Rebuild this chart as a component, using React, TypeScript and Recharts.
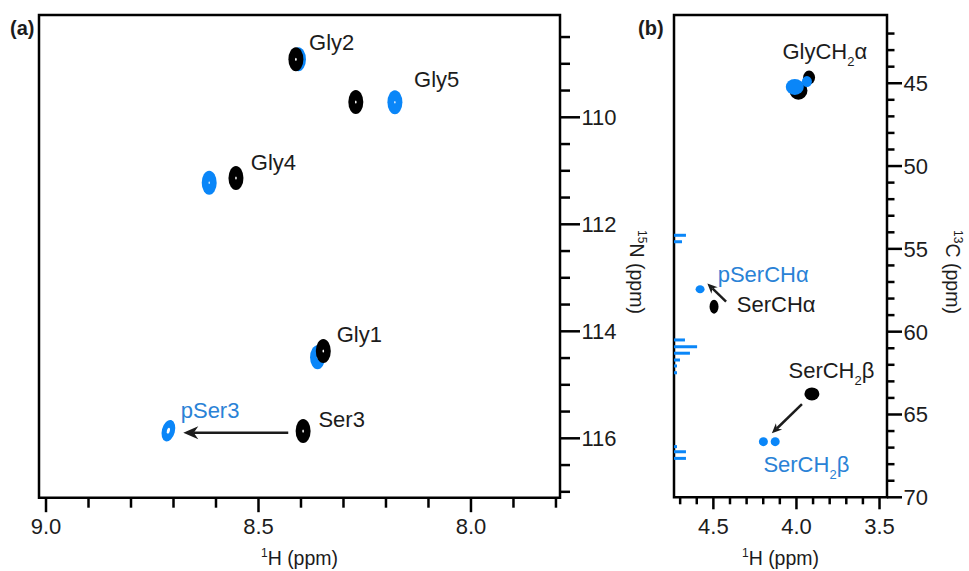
import React from 'react';
import { ScatterChart, Scatter, XAxis, YAxis, ReferenceLine, ReferenceArea } from 'recharts';

const FONT = '"Liberation Sans", Arial, Helvetica, sans-serif';
const INK = '#1c1c1c';
const BLUE = '#0a86f8';
const BLUE_TEXT = '#2a82d6';

// ---------- panel (a): 1H-15N ----------
const aXDomain = [7.7905, 9.0165];
const aYDomain = [108.088, 117.11];
const aXTicks = [9.0, 8.9, 8.8, 8.7, 8.6, 8.5, 8.4, 8.3, 8.2, 8.1, 8.0, 7.9, 7.8];
const aXMajor = [9.0, 8.5, 8.0];
const aYTicks = [108.5, 109, 109.5, 110, 110.5, 111, 111.5, 112, 112.5, 113, 113.5, 114, 114.5, 115, 115.5, 116, 116.5, 117];
const aYMajor = [110, 112, 114, 116];

// non-phosphorylated (black) and phosphorylated (blue) peaks: [1H, 15N]
const aBlackPeaks = [[8.412, 108.916], [8.271, 109.714], [8.553, 111.135], [8.3475, 114.368], [8.395, 115.864]];
const aBluePeaks = [[8.406, 108.916], [8.179, 109.72], [8.616, 111.222], [8.361, 114.486]];
const aPSerPeak = [[8.712, 115.858]];

const aLabels = ['Gly2', 'Gly5', 'Gly4', 'Gly1', 'Ser3'];
const aLabelPos = [[8.381, 108.742], [8.134, 109.428], [8.518, 110.985], [8.316, 114.194], [8.359, 115.783]];
const aBlueLabels = ['pSer3'];
const aBlueLabelPos = [[8.683, 115.626]];
const aArrows = [[[8.43, 115.895], [8.677, 115.895]]];

// ---------- panel (b): 1H-13C ----------
const bXDomain = [3.455, 4.737];
const bYDomain = [40.88, 70];
const bXTicks = [4.7, 4.6, 4.5, 4.4, 4.3, 4.2, 4.1, 4.0, 3.9, 3.8, 3.7, 3.6, 3.5];
const bXMajor = [4.5, 4.0, 3.5];
const bYTicks = [42, 43, 44, 45, 46, 47, 48, 49, 50, 51, 52, 53, 54, 55, 56, 57, 58, 59, 60, 61, 62, 63, 64, 65, 66, 67, 68, 69, 70];
const bYMajor = [45, 50, 55, 60, 65, 70];

const glyBlackMain = [[3.988, 45.45]];
const glyBlackSmall = [[3.924, 44.66]];
const glyBlueMain = [[4.01, 45.22]];
const glyBlueSmall = [[3.937, 44.9]];
const serAlpha = [[4.496, 58.49]];
const pSerAlpha = [[4.58, 57.44]];
const serBeta = [[3.907, 63.76]];
const pSerBeta = [[4.199, 66.64], [4.128, 66.64]];

const bLabels = ['GlyCH_2α', 'SerCHα', 'SerCH_2β'];
const bLabelPos = [[4.084, 43.55], [4.359, 58.79], [4.048, 62.81]];
const bBlueLabels = ['pSerCHα', 'SerCH_2β'];
const bBlueLabelPos = [[4.474, 56.98], [4.199, 68.45]];
const bArrows = [[[4.4235, 58.19], [4.536, 57.09]], [[3.967, 64.37], [4.148, 66.14]]];

// 13C projection along the left edge
const projShift = [54.18, 54.57, 60.5, 60.91, 61.3, 61.71, 62.07, 62.48, 66.94, 67.25, 67.65];
const projIntensity = [0.072, 0.048, 0.066, 0.139, 0.096, 0.036, 0.018, 0.018, 0.018, 0.072, 0.072];

const pts = (arr: number[][]) => arr.map(([x, y]) => ({ x, y }));
const lbls = (names: string[], pos: number[][]) => names.map((name, i) => ({ x: pos[i][0], y: pos[i][1], name }));
const isMajor = (v: number, majors: number[]) => majors.some((m) => Math.abs(m - v) < 1e-6);

const blob = (rx: number, ry: number, fill: string, hole = 1.6, tilt = 0) => (p: any) => (
  <g transform={`rotate(${tilt} ${p.cx} ${p.cy})`}>
    <ellipse cx={p.cx} cy={p.cy} rx={rx} ry={ry} fill={fill} />
    {hole > 0 && <ellipse cx={p.cx} cy={p.cy} rx={hole * 0.5} ry={hole} fill="#fff" />}
  </g>
);

const labelShape = (fill: string) => (p: any) => {
  const parts = String(p.payload.name).split('_');
  return (
    <text x={p.cx} y={p.cy} fill={fill} fontSize={22} fontFamily={FONT}>
      <tspan>{parts[0]}</tspan>
      {parts.slice(1).map((s, i) => (
        <React.Fragment key={i}>
          <tspan fontSize={13} dy={7}>{s[0]}</tspan>
          <tspan dy={-7}>{s.slice(1)}</tspan>
        </React.Fragment>
      ))}
    </text>
  );
};

const arrowShape = (len: number, half: number) => (p: any) => {
  const { x1, y1, x2, y2 } = p;
  const a = Math.atan2(y2 - y1, x2 - x1);
  const c = Math.cos(a), s = Math.sin(a);
  const bx = x2 - len * c, by = y2 - len * s;
  const nx = x2 - len * 0.7 * c, ny = y2 - len * 0.7 * s;
  const head = `${x2},${y2} ${bx - half * s},${by + half * c} ${nx},${ny} ${bx + half * s},${by - half * c}`;
  return (
    <g>
      <line x1={x1} y1={y1} x2={nx} y2={ny} stroke={INK} strokeWidth={2.5} />
      <polygon points={head} fill={INK} />
    </g>
  );
};

const bottomTick = (majors: number[], majorLen: number, minorLen: number) => (p: any) => {
  const v = p.payload.value;
  const major = isMajor(v, majors);
  return (
    <g>
      <line x1={p.x} x2={p.x} y1={p.y} y2={p.y + (major ? majorLen : minorLen)} stroke="#000" strokeWidth={2.5} />
      {major && (
        <text x={p.x} y={p.y + 36.5} textAnchor="middle" fontSize={22} fill={INK} fontFamily={FONT}>
          {v.toFixed(1)}
        </text>
      )}
    </g>
  );
};

const rightTick = (majors: number[], majorLen: number, minorLen: number) => (p: any) => {
  const v = p.payload.value;
  const major = isMajor(v, majors);
  return (
    <g>
      <line x1={p.x} x2={p.x + (major ? majorLen : minorLen)} y1={p.y} y2={p.y} stroke="#000" strokeWidth={2.5} />
      {major && (
        <text x={p.x + majorLen + 1.5} y={p.y + 8} textAnchor="start" fontSize={22} fill={INK} fontFamily={FONT}>
          {v}
        </text>
      )}
    </g>
  );
};

const xTitle = (p: any) => {
  const vb = p.viewBox;
  return (
    <text x={vb.x + vb.width / 2} y={vb.y + 67.5} textAnchor="middle" fontSize={19.5} fill={INK} fontFamily={FONT}>
      <tspan fontSize={12} dy={-8}>1</tspan>
      <tspan dy={8}>H (ppm)</tspan>
    </text>
  );
};

const yTitle = (sup: string, atom: string, dx: number) => (p: any) => {
  const vb = p.viewBox;
  const x = vb.x + dx;
  const y = 272;
  return (
    <text x={x} y={y} transform={`rotate(90 ${x} ${y})`} textAnchor="middle" fontSize={19.5} fill={INK} fontFamily={FONT}>
      <tspan fontSize={12} dy={-8}>{sup}</tspan>
      <tspan dy={8}>{atom} (ppm)</tspan>
    </text>
  );
};

const panelTag: React.CSSProperties = {
  position: 'absolute',
  fontFamily: FONT,
  fontWeight: 'bold',
  fontSize: 20,
  lineHeight: '20px',
  color: INK,
};

export default function App() {
  return (
    <div style={{ position: 'absolute', left: 0, top: 0, width: 969, height: 571, background: '#fff', overflow: 'hidden' }}>
      <div style={{ position: 'absolute', left: 0, top: 0 }}>
        <ScatterChart width={660} height={571} margin={{ top: 15, left: 39, right: 10, bottom: 13.3 }}>
          <XAxis
            type="number"
            dataKey="x"
            domain={aXDomain}
            reversed
            allowDataOverflow
            ticks={aXTicks}
            interval={0}
            height={60}
            axisLine={false}
            tickLine={false}
            tickSize={0}
            tickMargin={0}
            tick={bottomTick(aXMajor, 14.5, 10)}
            label={xTitle}
          />
          <YAxis
            type="number"
            dataKey="y"
            orientation="right"
            domain={aYDomain}
            reversed
            allowDataOverflow
            ticks={aYTicks}
            interval={0}
            width={90}
            axisLine={false}
            tickLine={false}
            tickSize={0}
            tickMargin={0}
            tick={rightTick(aYMajor, 20, 10)}
            label={yTitle('15', 'N', 70)}
          />
          <Scatter data={pts(aBluePeaks)} shape={blob(7.5, 12, BLUE, 1.2)} isAnimationActive={false} />
          <Scatter data={pts(aBlackPeaks)} shape={blob(7.5, 12, '#000', 1.6)} isAnimationActive={false} />
          <Scatter data={pts(aPSerPeak)} shape={blob(6.5, 11, BLUE, 3, 15)} isAnimationActive={false} />
          {aArrows.map((seg, i) => (
            <ReferenceLine
              key={i}
              segment={[{ x: seg[0][0], y: seg[0][1] }, { x: seg[1][0], y: seg[1][1] }]}
              shape={arrowShape(15, 6.5)}
            />
          ))}
          <Scatter data={lbls(aLabels, aLabelPos)} shape={labelShape(INK)} isAnimationActive={false} />
          <Scatter data={lbls(aBlueLabels, aBlueLabelPos)} shape={labelShape(BLUE_TEXT)} isAnimationActive={false} />
          <ReferenceArea
            x1={aXDomain[0]}
            x2={aXDomain[1]}
            y1={aYDomain[0]}
            y2={aYDomain[1]}
            fill="none"
            fillOpacity={0}
            stroke="#000"
            strokeWidth={2.5}
            ifOverflow="visible"
          />
        </ScatterChart>
      </div>

      <div style={{ position: 'absolute', left: 620, top: 0 }}>
        <ScatterChart width={349} height={571} margin={{ top: 15, left: 54, right: 0, bottom: 13.7 }}>
          <XAxis
            type="number"
            dataKey="x"
            domain={bXDomain}
            reversed
            allowDataOverflow
            ticks={bXTicks}
            interval={0}
            height={60}
            axisLine={false}
            tickLine={false}
            tickSize={0}
            tickMargin={0}
            tick={bottomTick(bXMajor, 12, 7)}
            label={xTitle}
          />
          <YAxis
            type="number"
            dataKey="y"
            orientation="right"
            domain={bYDomain}
            reversed
            allowDataOverflow
            ticks={bYTicks}
            interval={0}
            width={82}
            axisLine={false}
            tickLine={false}
            tickSize={0}
            tickMargin={0}
            tick={rightTick(bYMajor, 15, 7.5)}
            label={yTitle('13', 'C', 59)}
          />
          {projShift.map((c, i) => (
            <ReferenceLine
              key={`p${i}`}
              segment={[{ x: bXDomain[1], y: c }, { x: bXDomain[1] - projIntensity[i], y: c }]}
              stroke={BLUE}
              strokeWidth={3}
            />
          ))}
          <Scatter data={pts(glyBlackMain)} shape={blob(9, 9, '#000', 0)} isAnimationActive={false} />
          <Scatter data={pts(glyBlackSmall)} shape={blob(6, 7, '#000', 0)} isAnimationActive={false} />
          <Scatter data={pts(glyBlueMain)} shape={blob(9, 8, BLUE, 0)} isAnimationActive={false} />
          <Scatter data={pts(glyBlueSmall)} shape={blob(5, 5.5, BLUE, 0)} isAnimationActive={false} />
          <Scatter data={pts(serAlpha)} shape={blob(4.5, 7, '#000', 0)} isAnimationActive={false} />
          <Scatter data={pts(pSerAlpha)} shape={blob(4.5, 4, BLUE, 0)} isAnimationActive={false} />
          <Scatter data={pts(serBeta)} shape={blob(7.5, 6.5, '#000', 0)} isAnimationActive={false} />
          <Scatter data={pts(pSerBeta)} shape={blob(4.5, 4.5, BLUE, 0)} isAnimationActive={false} />
          {bArrows.map((seg, i) => (
            <ReferenceLine
              key={`a${i}`}
              segment={[{ x: seg[0][0], y: seg[0][1] }, { x: seg[1][0], y: seg[1][1] }]}
              shape={arrowShape(10, 4.5)}
            />
          ))}
          <Scatter data={lbls(bLabels, bLabelPos)} shape={labelShape(INK)} isAnimationActive={false} />
          <Scatter data={lbls(bBlueLabels, bBlueLabelPos)} shape={labelShape(BLUE_TEXT)} isAnimationActive={false} />
          <ReferenceArea
            x1={bXDomain[0]}
            x2={bXDomain[1]}
            y1={bYDomain[0]}
            y2={bYDomain[1]}
            fill="none"
            fillOpacity={0}
            stroke="#000"
            strokeWidth={2.5}
            ifOverflow="visible"
          />
        </ScatterChart>
      </div>

      <div style={{ ...panelTag, left: 10, top: 18 }}>(a)</div>
      <div style={{ ...panelTag, left: 638, top: 18 }}>(b)</div>
    </div>
  );
}
